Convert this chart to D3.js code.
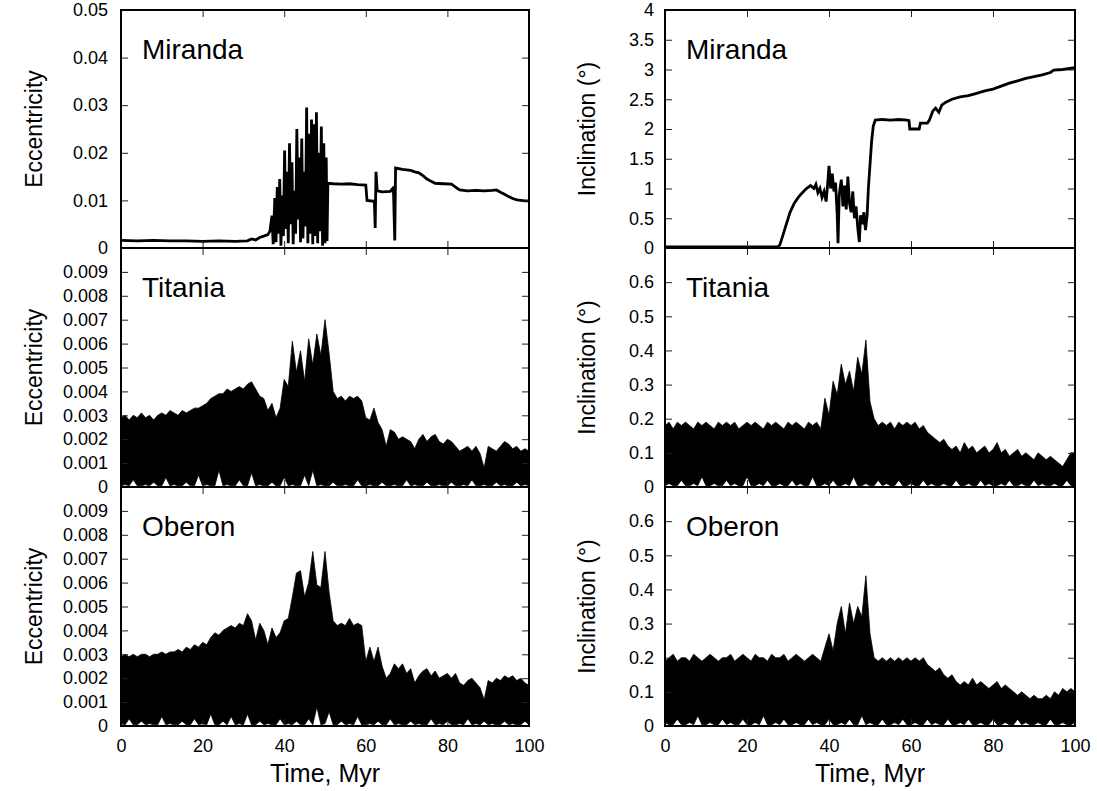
<!DOCTYPE html>
<html>
<head>
<meta charset="utf-8">
<script src="https://cdn.jsdelivr.net/npm/d3@7"></script>
<style>
  html, body { margin: 0; padding: 0; background: #fff; }
  svg { display: block; }
  text { font-family: "Liberation Sans", Arial, sans-serif; fill: #000; }
</style>
</head>
<body>
<svg id="chart" width="1097" height="791"></svg>
<script>
// ---------------- DATA ----------------
const moons = ["Miranda", "Titania", "Oberon"];
const xTicks = [0, 20, 40, 60, 80, 100];
const xTickLabels = ["0", "20", "40", "60", "80", "100"];

const eccTopTicks = [0, 0.01, 0.02, 0.03, 0.04, 0.05];
const eccTopLabels = ["0", "0.01", "0.02", "0.03", "0.04", "0.05"];
const eccSubTicks = [0, 0.001, 0.002, 0.003, 0.004, 0.005, 0.006, 0.007, 0.008, 0.009, 0.01];
const eccSubLabels = ["0", "0.001", "0.002", "0.003", "0.004", "0.005", "0.006", "0.007", "0.008", "0.009", ""];
const incTopTicks = [0, 0.5, 1, 1.5, 2, 2.5, 3, 3.5, 4];
const incTopLabels = ["0", "0.5", "1", "1.5", "2", "2.5", "3", "3.5", "4"];
const incSubTicks = [0, 0.1, 0.2, 0.3, 0.4, 0.5, 0.6, 0.7];
const incSubLabels = ["0", "0.1", "0.2", "0.3", "0.4", "0.5", "0.6", ""];

// Miranda eccentricity (time in Myr, value)
const mirEccT = [0,4,8,12,16,20,24,28,31,32,33,34,35,36,36.5,37,37.3,37.7,38,38.3,38.6,38.9,39.2,39.5,39.8,40.1,40.4,40.7,41,41.3,41.6,41.9,42.2,42.5,42.8,43.1,43.4,43.7,44,44.3,44.6,44.9,45.2,45.5,45.8,46.1,46.4,46.7,47,47.3,47.6,47.9,48.2,48.5,48.8,49.1,49.4,49.7,50,50.3,50.5,50.7,52,54,56,58,60,60.3,62.1,62.3,62.5,62.8,64,66,66.6,66.8,67.1,67.3,69,71,72,73,74,75,76,77,79,81,82,83,85,87,89,91,92,93,94,95,96,97,99,100];
const mirEccV = [0.0016,0.0015,0.0016,0.0015,0.0015,0.0014,0.0015,0.0014,0.0015,0.0019,0.0017,0.0022,0.0025,0.0028,0.0035,0.0068,0.0008,0.0105,0.0012,0.0128,0.0030,0.0145,0.0005,0.0110,0.0025,0.0205,0.0040,0.0160,0.0010,0.0220,0.0050,0.0180,0.0008,0.0120,0.0030,0.0250,0.0060,0.0190,0.0012,0.0230,0.0020,0.0160,0.0045,0.0295,0.0010,0.0240,0.0030,0.0270,0.0008,0.0260,0.0025,0.0285,0.0010,0.0200,0.0035,0.0255,0.0005,0.0220,0.0010,0.0190,0.0015,0.0136,0.0135,0.0134,0.0135,0.0133,0.0132,0.0100,0.0098,0.0042,0.0160,0.0120,0.0118,0.0119,0.0125,0.0115,0.0016,0.0168,0.0165,0.0163,0.0160,0.0158,0.0152,0.0145,0.0140,0.0136,0.0135,0.0134,0.0128,0.0122,0.0120,0.0121,0.0120,0.0121,0.0122,0.0117,0.0113,0.0108,0.0104,0.0101,0.0099,0.0099];

// Miranda inclination (time in Myr, degrees)
const mirIncT = [0,10,20,27.5,28,28.7,29.5,30.5,31.5,32.5,33.5,34.5,35.5,36.3,36.8,37.3,37.8,38.3,38.8,39.3,39.7,40,40.4,40.8,41.2,41.6,42,42.2,42.5,43,43.4,43.8,44.2,44.6,45,45.4,45.8,46.2,46.6,47,47.4,47.7,48.1,48.5,48.9,49.3,49.6,50,50.4,50.8,51.3,53,55,57,59,59.5,59.7,62,62.3,64,64.5,65.3,66,66.8,67.5,68.5,70,72,74,76,78,80,82,84,86,88,90,92,94,94.8,97,100];
const mirIncV = [0.02,0.02,0.02,0.02,0.05,0.2,0.38,0.6,0.75,0.85,0.93,1.0,1.05,1.0,1.07,0.93,1.0,0.85,0.95,0.78,1.1,1.38,1.0,1.25,0.95,1.1,0.55,0.08,0.9,1.15,0.7,1.05,0.65,1.2,0.75,0.6,0.95,0.5,0.7,0.35,0.1,0.55,0.4,0.6,0.3,0.55,1.0,1.4,1.8,2.05,2.15,2.16,2.15,2.16,2.15,2.14,2.0,2.0,2.1,2.1,2.15,2.3,2.35,2.28,2.4,2.45,2.5,2.54,2.56,2.6,2.64,2.67,2.72,2.77,2.81,2.85,2.88,2.91,2.95,2.99,3.0,3.03];

// Titania / Oberon: envelopes of the oscillation, one value per Myr (0..100)
const titEccUp = [0.0029,0.0030,0.0028,0.0030,0.0029,0.0031,0.0029,0.0030,0.0028,0.0030,
0.0031,0.0030,0.0032,0.0031,0.0030,0.0032,0.0031,0.0032,0.0033,0.0033,
0.0034,0.0035,0.0037,0.0038,0.0039,0.0039,0.0041,0.0040,0.0041,0.0042,
0.0041,0.0043,0.0044,0.0041,0.0038,0.0037,0.0032,0.0035,0.0029,0.0033,
0.0045,0.0042,0.0061,0.0048,0.0057,0.0044,0.0062,0.0051,0.0064,0.0055,
0.0070,0.0056,0.0040,0.0037,0.0038,0.0036,0.0038,0.0037,0.0038,0.0036,
0.0029,0.0028,0.0033,0.0027,0.0024,0.0017,0.0024,0.0023,0.0020,0.0021,
0.0020,0.0019,0.0016,0.0020,0.0022,0.0019,0.0021,0.0022,0.0019,0.0018,
0.0020,0.0019,0.0017,0.0015,0.0016,0.0017,0.0015,0.0017,0.0014,0.0008,
0.0017,0.0016,0.0015,0.0017,0.0019,0.0018,0.0016,0.0017,0.0015,0.0016,
0.0015];
const titEccLo = [0.00005,0.0001,0.00005,0.0003,0.00005,0.00005,0.0001,0.00005,0.0002,0.00005,
0.00005,0.0004,0.00005,0.0001,0.00005,0.00005,0.0002,0.00005,0.00005,0.0005,
0.00005,0.0001,0.00005,0.00005,0.0007,0.00005,0.0001,0.00005,0.00005,0.0003,
0.00005,0.00005,0.0006,0.00005,0.0001,0.00005,0.00005,0.0002,0.00005,0.00005,
0.0004,0.00005,0.0001,0.00005,0.00005,0.0005,0.00005,0.0007,0.00005,0.0001,
0.00005,0.00005,0.0002,0.00005,0.00005,0.0001,0.00005,0.00005,0.0003,0.00005,
0.00005,0.0001,0.00005,0.00005,0.0002,0.00005,0.00005,0.0001,0.00005,0.00005,
0.0003,0.00005,0.0001,0.00005,0.00005,0.0002,0.00005,0.00005,0.0001,0.00005,
0.00005,0.0002,0.00005,0.00005,0.0001,0.00005,0.0003,0.00005,0.00005,0.0001,
0.00005,0.00005,0.0002,0.00005,0.0001,0.00005,0.00005,0.0002,0.00005,0.0001,
0.00005];
const obEccUp = [0.0029,0.0030,0.0029,0.0030,0.0029,0.0030,0.0030,0.0029,0.0030,0.0030,
0.0031,0.0030,0.0031,0.0031,0.0032,0.0031,0.0033,0.0032,0.0034,0.0033,
0.0035,0.0034,0.0037,0.0039,0.0038,0.0040,0.0041,0.0042,0.0041,0.0043,
0.0042,0.0047,0.0044,0.0036,0.0043,0.0040,0.0034,0.0041,0.0037,0.0039,
0.0044,0.0045,0.0054,0.0064,0.0065,0.0054,0.0060,0.0073,0.0059,0.0058,
0.0073,0.0056,0.0044,0.0042,0.0043,0.0042,0.0045,0.0042,0.0043,0.0042,
0.0027,0.0033,0.0027,0.0033,0.0025,0.0020,0.0022,0.0026,0.0024,0.0026,
0.0022,0.0024,0.0018,0.0021,0.0023,0.0024,0.0021,0.0023,0.0020,0.0021,
0.0022,0.0020,0.0022,0.0018,0.0017,0.0019,0.0020,0.0018,0.0016,0.0011,
0.0019,0.0018,0.0020,0.0019,0.0021,0.0020,0.0021,0.0019,0.0020,0.0018,
0.0017];
const obEccLo = [0.0001,0.00005,0.0003,0.00005,0.00005,0.0002,0.00005,0.0001,0.00005,0.00005,
0.0004,0.00005,0.0001,0.00005,0.00005,0.0002,0.00005,0.00005,0.0003,0.00005,
0.0001,0.00005,0.0005,0.00005,0.00005,0.0002,0.00005,0.0004,0.00005,0.0001,
0.00005,0.0005,0.00005,0.00005,0.0002,0.00005,0.0001,0.00005,0.00005,0.0003,
0.00005,0.0001,0.00005,0.0002,0.00005,0.00005,0.0003,0.00005,0.0008,0.00005,
0.0001,0.0006,0.00005,0.00005,0.0002,0.00005,0.0001,0.00005,0.0004,0.00005,
0.00005,0.0001,0.00005,0.0002,0.00005,0.00005,0.0003,0.00005,0.0001,0.00005,
0.00005,0.0002,0.00005,0.0001,0.00005,0.00005,0.0003,0.00005,0.0001,0.00005,
0.0002,0.00005,0.00005,0.0001,0.00005,0.0003,0.00005,0.0001,0.00005,0.0002,
0.00005,0.0001,0.00005,0.00005,0.0002,0.00005,0.0001,0.00005,0.00005,0.0002,
0.00005];
const titIncUp = [0.18,0.19,0.17,0.19,0.18,0.19,0.18,0.17,0.19,0.18,
0.19,0.18,0.17,0.19,0.18,0.19,0.18,0.19,0.17,0.18,
0.19,0.18,0.19,0.18,0.17,0.19,0.18,0.19,0.18,0.17,
0.19,0.18,0.19,0.18,0.17,0.19,0.18,0.19,0.17,0.26,
0.21,0.31,0.27,0.36,0.30,0.34,0.28,0.38,0.33,0.43,
0.25,0.20,0.18,0.19,0.18,0.19,0.17,0.19,0.18,0.19,
0.18,0.19,0.17,0.18,0.16,0.15,0.14,0.13,0.14,0.12,
0.11,0.12,0.10,0.13,0.11,0.12,0.10,0.11,0.12,0.10,
0.11,0.13,0.10,0.11,0.09,0.10,0.11,0.09,0.10,0.09,
0.08,0.10,0.09,0.08,0.09,0.08,0.07,0.06,0.08,0.10,
0.10];
const titIncLo = [0.004,0.01,0.004,0.004,0.02,0.004,0.004,0.01,0.004,0.03,
0.004,0.004,0.01,0.004,0.004,0.02,0.004,0.01,0.004,0.004,
0.03,0.004,0.004,0.01,0.004,0.02,0.004,0.004,0.01,0.004,
0.004,0.02,0.004,0.01,0.004,0.004,0.03,0.004,0.004,0.01,
0.004,0.02,0.004,0.004,0.01,0.004,0.03,0.004,0.004,0.01,
0.004,0.004,0.02,0.004,0.01,0.004,0.004,0.02,0.004,0.004,
0.01,0.004,0.004,0.02,0.004,0.01,0.004,0.004,0.01,0.004,
0.004,0.02,0.004,0.004,0.01,0.004,0.004,0.02,0.004,0.01,
0.004,0.004,0.01,0.004,0.02,0.004,0.004,0.01,0.004,0.004,
0.02,0.004,0.01,0.004,0.004,0.01,0.004,0.004,0.02,0.004,
0.004];
const obIncUp = [0.19,0.20,0.21,0.19,0.20,0.20,0.19,0.21,0.20,0.19,
0.20,0.21,0.20,0.19,0.20,0.20,0.21,0.19,0.20,0.21,
0.20,0.19,0.21,0.20,0.20,0.19,0.21,0.20,0.20,0.21,
0.19,0.20,0.21,0.20,0.19,0.20,0.21,0.20,0.19,0.23,
0.27,0.22,0.30,0.35,0.27,0.36,0.30,0.35,0.32,0.44,
0.27,0.20,0.19,0.20,0.19,0.20,0.19,0.20,0.19,0.20,
0.19,0.20,0.19,0.20,0.18,0.17,0.16,0.17,0.15,0.14,
0.15,0.13,0.12,0.13,0.12,0.14,0.12,0.13,0.12,0.11,
0.12,0.13,0.11,0.12,0.11,0.10,0.09,0.10,0.09,0.08,
0.09,0.08,0.08,0.09,0.08,0.10,0.09,0.11,0.10,0.11,
0.10];
const obIncLo = [0.01,0.004,0.004,0.02,0.004,0.004,0.01,0.004,0.03,0.004,
0.004,0.01,0.004,0.004,0.02,0.004,0.01,0.004,0.004,0.02,
0.004,0.004,0.01,0.004,0.03,0.004,0.004,0.01,0.004,0.02,
0.004,0.004,0.01,0.004,0.004,0.02,0.004,0.01,0.004,0.004,
0.02,0.004,0.004,0.01,0.004,0.02,0.004,0.004,0.03,0.004,
0.01,0.004,0.004,0.02,0.004,0.004,0.01,0.004,0.02,0.004,
0.004,0.01,0.004,0.004,0.02,0.004,0.01,0.004,0.004,0.02,
0.004,0.004,0.01,0.004,0.02,0.004,0.004,0.01,0.004,0.004,
0.02,0.004,0.004,0.01,0.004,0.004,0.02,0.004,0.01,0.004,
0.004,0.01,0.004,0.004,0.02,0.004,0.004,0.01,0.004,0.004,
0.01];

// ---------------- LAYOUT ----------------
const svg = d3.select("#chart");
const FONT_TICK = 18, FONT_LABEL = 23, FONT_XLABEL = 25, FONT_TITLE = 28;
const colX = [[121, 529], [665, 1075]];
const rowY = [[10, 248], [248, 487], [487, 726]];

const panels = [
  {row:0, col:0, kind:"line", t:mirEccT, v:mirEccV, ticks:eccTopTicks, labels:eccTopLabels, ylab:"Eccentricity"},
  {row:0, col:1, kind:"line", t:mirIncT, v:mirIncV, ticks:incTopTicks, labels:incTopLabels, ylab:"Inclination (°)"},
  {row:1, col:0, kind:"band", up:titEccUp, lo:titEccLo, ticks:eccSubTicks, labels:eccSubLabels, ylab:"Eccentricity"},
  {row:1, col:1, kind:"band", up:titIncUp, lo:titIncLo, ticks:incSubTicks, labels:incSubLabels, ylab:"Inclination (°)"},
  {row:2, col:0, kind:"band", up:obEccUp, lo:obEccLo, ticks:eccSubTicks, labels:eccSubLabels, ylab:"Eccentricity"},
  {row:2, col:1, kind:"band", up:obIncUp, lo:obIncLo, ticks:incSubTicks, labels:incSubLabels, ylab:"Inclination (°)"}
];

panels.forEach((p, idx) => {
  const [x0, x1] = colX[p.col];
  const [yTop, yBot] = rowY[p.row];
  const x = d3.scaleLinear().domain([0, 100]).range([x0, x1]);
  const yMax = p.ticks[p.ticks.length - 1];
  const y = d3.scaleLinear().domain([0, yMax]).range([yBot, yTop]);

  const clipId = "clip" + idx;
  svg.append("clipPath").attr("id", clipId)
    .append("rect").attr("x", x0).attr("y", yTop).attr("width", x1 - x0).attr("height", yBot - yTop);

  const g = svg.append("g").attr("clip-path", `url(#${clipId})`);
  if (p.kind === "line") {
    const pts = p.t.map((t, i) => [t, p.v[i]]);
    g.append("path")
      .attr("d", d3.line().x(d => x(d[0])).y(d => y(d[1]))(pts))
      .attr("fill", "none").attr("stroke", "#000").attr("stroke-width", 2.8)
      .attr("stroke-linejoin", "miter");
  } else {
    const idxs = d3.range(p.up.length);
    g.append("path")
      .attr("d", d3.area().x(i => x(i)).y0(i => y(p.lo[i] ?? 0)).y1(i => y(p.up[i]))(idxs))
      .attr("fill", "#000").attr("stroke", "#000").attr("stroke-width", 0.8);
  }

  // inward ticks on all four sides
  const tickCol = "#222";
  const ax = [
    svg.append("g").attr("transform", `translate(${x0},0)`).call(d3.axisLeft(y).tickValues(p.ticks).tickSizeInner(-7).tickSizeOuter(0).tickFormat("")),
    svg.append("g").attr("transform", `translate(${x1},0)`).call(d3.axisRight(y).tickValues(p.ticks).tickSizeInner(-7).tickSizeOuter(0).tickFormat("")),
    svg.append("g").attr("transform", `translate(0,${yBot})`).call(d3.axisBottom(x).tickValues(xTicks).tickSizeInner(-7).tickSizeOuter(0).tickFormat("")),
    svg.append("g").attr("transform", `translate(0,${yTop})`).call(d3.axisTop(x).tickValues(xTicks).tickSizeInner(-7).tickSizeOuter(0).tickFormat(""))
  ];
  ax.forEach(a => { a.select(".domain").remove(); a.selectAll("line").attr("stroke", tickCol).attr("stroke-width", 1); });

  // y tick labels
  const yl = svg.append("g").attr("transform", `translate(${x0},0)`)
    .call(d3.axisLeft(y).tickValues(p.ticks).tickSize(0).tickPadding(p.col === 0 ? 13 : 11).tickFormat((d, i) => p.labels[i]));
  yl.select(".domain").remove();
  yl.selectAll("text").attr("font-size", FONT_TICK).attr("font-family", '"Liberation Sans", Arial, sans-serif').attr("fill", "#000");

  // x tick labels on bottom row
  if (p.row === 2) {
    const xl = svg.append("g").attr("transform", `translate(0,${yBot})`)
      .call(d3.axisBottom(x).tickValues(xTicks).tickSize(0).tickPadding(13).tickFormat((d, i) => xTickLabels[i]));
    xl.select(".domain").remove();
    xl.selectAll("text").attr("font-size", FONT_TICK).attr("font-family", '"Liberation Sans", Arial, sans-serif').attr("fill", "#000");
    svg.append("text").attr("x", (x0 + x1) / 2).attr("y", 782).attr("text-anchor", "middle")
      .attr("font-size", FONT_XLABEL).text("Time, Myr");
  }

  // frame
  svg.append("rect").attr("x", x0).attr("y", yTop).attr("width", x1 - x0).attr("height", yBot - yTop)
    .attr("fill", "none").attr("stroke", "#000").attr("stroke-width", 2);

  // moon title
  svg.append("text").attr("x", x0 + 21).attr("y", yTop + 49).attr("font-size", FONT_TITLE).text(moons[p.row]);

  // y axis label
  const lx = p.col === 0 ? 42 : 595;
  svg.append("text").attr("transform", `translate(${lx},${(yTop + yBot) / 2}) rotate(-90)`)
    .attr("text-anchor", "middle").attr("font-size", FONT_LABEL).text(p.ylab);
});
</script>
</body>
</html>
